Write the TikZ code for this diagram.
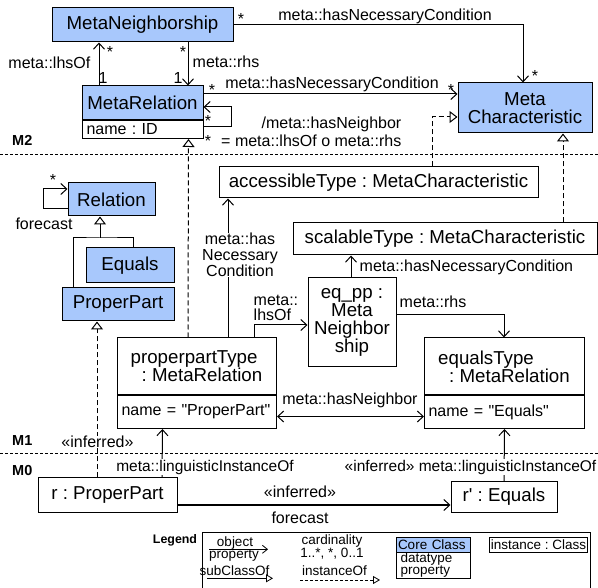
\documentclass[tikz,border=0pt]{standalone}
\usepackage{fontspec}
\setmainfont{Liberation Sans}[Ligatures=TeXOff]
\frenchspacing
\usetikzlibrary{arrows.meta}
\definecolor{coreblue}{RGB}{168,200,252}
\newcommand\fsName{\fontsize{18.7}{18}\selectfont}
\newcommand\fsLbl{\fontsize{16}{16}\selectfont}
\newcommand\fsLing{\fontsize{15.5}{16}\selectfont}
\newcommand\fsLeg{\fontsize{13.5}{12}\selectfont}
\newcommand\fsLevel{\fontsize{14.5}{14}\selectfont\bfseries}

\begin{document}
\begin{tikzpicture}[x=1pt,y=-1pt,
  box/.style={draw, line width=1pt, inner sep=0pt, align=center, font=\fsName},
  cls/.style={box, fill=coreblue},
  obj/.style={box, fill=white},
  hdr/.style={obj, align=left},
  attr/.style={draw, line width=1pt, fill=white, inner xsep=4pt, inner ysep=0pt,
               align=left, font=\fsLbl, anchor=north west},
  lbl/.style={font=\fsLbl, inner sep=0.5pt},
  ling/.style={font=\fsLing, inner sep=0.5pt, fill=white},
  mult/.style={font=\fsLbl, inner sep=0pt},
  levelname/.style={font=\fsLevel, inner sep=0pt, anchor=west},
  legtext/.style={font=\fsLeg, inner sep=0pt, anchor=base},
  assoc/.style={line width=1pt, -{Straight Barb[length=6pt,width=11pt]}},
  biassoc/.style={line width=1pt, {Straight Barb[length=6pt,width=11pt]}-{Straight Barb[length=6pt,width=11pt]}},
  plain/.style={line width=1pt},
  gen/.style={line width=1pt, -{Triangle[open,length=8pt,width=12pt,fill=white]}},
  instof/.style={gen, dash pattern=on 5pt off 3pt},
  levelsep/.style={line width=1pt, dash pattern=on 2.5pt off 2.5pt},
]
\useasboundingbox (0,0) rectangle (598,588);

% ---------- level separators ----------
\coordinate (m2l) at (0,155);
\coordinate (m2r) at (598,155);
\coordinate (m1l) at (0,454);
\coordinate (m1r) at (598,454);
\draw[levelsep] (m2l) -- (m2r);
\draw[levelsep] (m1l) -- (m1r);
\node[levelname] (lvM2) at (12,140) {M2};
\node[levelname] (lvM1) at (12,441) {M1};
\node[levelname] (lvM0) at (12,471) {M0};

% ---------- M2 ----------
\node[cls, minimum width=181pt, minimum height=34pt] (mnb) at (142.5,25) {MetaNeighborship};
\node[cls, minimum width=121pt, minimum height=34pt] (mrel) at (142.5,103) {MetaRelation};
\node[attr, text width=113pt, minimum height=18pt] (mrelattr) at (82,120) {name : ID};
\node[cls, minimum width=134pt, minimum height=50pt] (mchar) at (525,108) {Meta\\Characteristic};

% ---------- M1 ----------
\node[cls, minimum width=87pt, minimum height=33pt] (rel) at (111.5,199.5) {Relation};
\node[cls, minimum width=88pt, minimum height=35pt] (equ) at (130,265.5) {Equals};
\node[cls, minimum width=112pt, minimum height=33pt] (pp) at (118,304.5) {ProperPart};

\node[obj, minimum width=319pt, minimum height=31pt] (acc) at (378.5,182.5) {accessibleType : MetaCharacteristic};
\node[obj, minimum width=304pt, minimum height=32pt] (scal) at (445,239) {scalableType : MetaCharacteristic};
\node[obj, minimum width=88pt, minimum height=89pt] (eqpp) at (352,322.5) {eq\_pp :\\Meta\\Neighbor\\ship};

\node[hdr, minimum width=159pt, minimum height=57pt] (ppt) at (196.5,366.5) {properpartType\\\hspace*{11pt}: MetaRelation};
\node[attr, text width=151pt, minimum height=33pt] (pptattr) at (117,395) {name = "ProperPart"};
\node[hdr, minimum width=160pt, minimum height=57pt] (eqt) at (504,366.5) {equalsType\\\hspace*{11pt}: MetaRelation};
\node[attr, text width=152pt, minimum height=33pt] (eqtattr) at (424,395) {name = "Equals"};

% ---------- M0 ----------
\node[obj, minimum width=139pt, minimum height=34pt] (rpp) at (107.5,495) {r : ProperPart};
\node[obj, minimum width=106pt, minimum height=30pt] (req) at (504,497) {r' : Equals};

% ---------- M2 connectors ----------
\draw[assoc] ([xshift=-43.5pt]mrel.north) -- ([xshift=-43.5pt]mnb.south);
\draw[assoc] ([xshift=45.5pt]mnb.south) -- ([xshift=45.5pt]mrel.north);
\draw[assoc] (mnb.east) -| ([xshift=-2pt]mchar.north);
\coordinate (mrelNC) at ([yshift=9pt]mrel.east);
\draw[assoc] (mrelNC) -- (mrelNC -| mchar.west);
\coordinate (hnOut) at ([yshift=3pt]mrelattr.east);
\coordinate (hnIn) at ([yshift=-4pt]mrel.east);
\draw[assoc] (hnOut) -- ++(27,0) |- (hnIn);

% ---------- instance-of links up to M2 ----------
\draw[instof] ([xshift=-8.5pt]ppt.north) -- ([xshift=45.5pt]mrelattr.south);
\coordinate (accTop) at ([xshift=53.5pt]acc.north);
\coordinate (mcharL) at ([yshift=-9pt]mchar.west);
\draw[instof] (accTop) |- (mcharL);
\draw[instof] ([xshift=118pt]scal.north) -- ([xshift=38pt]mchar.south);

% ---------- M1 connectors ----------
\coordinate (fcOut) at ([yshift=-9.5pt]rel.west);
\coordinate (fcIn) at ([yshift=10.5pt]rel.west);
\draw[assoc] (fcOut) -- ++(-24,0) |- (fcIn);

\coordinate (genJ) at (100,238);
\coordinate (eqUp) at ([xshift=3pt]equ.north);
\coordinate (ppUp) at ([xshift=-45pt]pp.north);
\draw[gen] (genJ) -- (genJ |- rel.south);
\draw[plain] (eqUp) |- (genJ) -| (ppUp);

\draw[assoc] ([xshift=31.5pt]ppt.north) -- ([xshift=-150.5pt]acc.south);
\coordinate (lhsUp) at ([xshift=57.5pt]ppt.north);
\coordinate (lhsIn) at ([yshift=-2.5pt]eqpp.west);
\draw[assoc] (lhsUp) |- (lhsIn);
\draw[assoc] ([xshift=-1pt]eqpp.north) -- ([xshift=-94pt]scal.south);
\coordinate (rhsOut) at ([yshift=7.5pt]eqpp.east);
\draw[assoc] (rhsOut) -| (eqt.north);
\coordinate (hnL) at ([yshift=-4.5pt]pptattr.east);
\draw[biassoc] (hnL) -- (hnL -| eqtattr.west);

% ---------- M0 connectors ----------
\draw[instof] ([xshift=-10.5pt]rpp.north) -- ([xshift=-21pt]pp.south);
\draw[assoc] ([xshift=54.5pt]rpp.north) -- ([xshift=-34.5pt]pptattr.south);
\draw[assoc] (req.north) -- (eqtattr.south);
\coordinate (fcA) at ([yshift=-10pt]rpp.east);
\draw[assoc] (fcA) -- (fcA -| req.west);

% ---------- labels ----------
\node[lbl, anchor=east] (lLhs) at (91,63) {meta::lhsOf};
\node[mult] (mLhs1) at (103,78) {1};
\node[mult] (mLhsS) at (110,51.5) {*};
\node[mult] (mRhsS) at (183,51.5) {*};
\node[lbl, anchor=west] (lRhs) at (192,62) {meta::rhs};
\node[mult] (mRhs1) at (178,78) {1};

\node[mult] (mTopA) at (241,18.5) {*};
\node[lbl] (lTop) at (385,16) {meta::hasNecessaryCondition};
\node[mult] (mTopB) at (535,75.5) {*};

\node[mult] (mNcA) at (212,89.5) {*};
\node[lbl] (lNc) at (332,84) {meta::hasNecessaryCondition};
\node[mult] (mNcB) at (451,89.5) {*};

\node[mult] (mHnA) at (208,120.5) {*};
\node[mult] (mHnB) at (208,140.5) {*};
\node[lbl, anchor=east, align=right, font=\fontsize{16}{18}\selectfont] (lHn) at (402,132)
  {/meta::hasNeighbor\\= meta::lhsOf o meta::rhs};

\node[mult] (mFc) at (53,179.5) {*};
\node[lbl] (lFc) at (44,224) {forecast};

\node[lbl, fill=white, align=center] (lAcc) at (240,255) {meta::has\\Necessary\\Condition};
\node[lbl, anchor=west, align=left, font=\fontsize{16}{15}\selectfont] (lLhsOf) at (253,307.5) {meta::\\lhsOf};
\node[lbl, anchor=west] (lScal) at (359,267) {meta::hasNecessaryCondition};
\node[lbl, anchor=west] (lRhs2) at (399,302) {meta::rhs};
\node[lbl] (lNb) at (350,400) {meta::hasNeighbor};

\node[lbl, fill=white] (lInfA) at (97.5,442) {«inferred»};
\node[ling] (lLingA) at (205,467) {meta::linguisticInstanceOf};
\node[ling] (lLingB) at (470.5,467) {«inferred» meta::linguisticInstanceOf};
\node[lbl] (lInfB) at (300,492) {«inferred»};
\node[lbl] (lFc2) at (300,518) {forecast};

% ---------- legend ----------
\node[font=\fontsize{12.4}{12}\selectfont\bfseries, inner sep=0pt] (legTitle) at (175,540) {Legend};
\node[draw, line width=1pt, anchor=north west, minimum width=388pt, minimum height=70pt, inner sep=0pt] (legend) at (202,532) {};

\coordinate (legA1) at (209,549.3);
\coordinate (legA2) at (268,549.3);
\draw[line width=0.8pt, -{Straight Barb[length=5pt,width=8pt]}] (legA1) -- (legA2);
\node[legtext] (legObj) at (235,546) {object};
\node[legtext] (legProp) at (234,558.5) {property};

\coordinate (legS1) at (207,578.3);
\coordinate (legS2) at (273,578.3);
\draw[line width=0.8pt, -{Triangle[open,length=7pt,width=8pt,fill=white]}] (legS1) -- (legS2);
\node[legtext] (legSub) at (234.5,575.5) {subClassOf};

\node[legtext] (legCard) at (332,544) {cardinality};
\node[legtext] (legMult) at (332,558) {1..*, *, 0..1};
\node[legtext] (legInst) at (334.5,575) {instanceOf};
\coordinate (legI1) at (300,580);
\coordinate (legI2) at (380,580);
\draw[line width=0.8pt, dash pattern=on 3pt off 2pt, -{Triangle[open,length=7pt,width=8pt,fill=white]}] (legI1) -- (legI2);

\node[draw, line width=1pt, fill=coreblue, anchor=north west, inner xsep=1.5pt, inner ysep=0pt,
      text width=71pt, minimum height=15pt, align=left, font=\fsLeg] (legCore) at (396,537) {Core Class};
\node[draw, line width=1pt, fill=white, anchor=north west, inner xsep=4pt, inner ysep=0pt,
      text width=66pt, minimum height=26pt, align=left, font=\fsLeg] (legCoreAttr) at (396,552) {datatype\\property};
\node[draw, line width=1pt, fill=white, anchor=north west, inner sep=0pt,
      minimum width=98pt, minimum height=15pt, font=\fsLeg] (legInstBox) at (489,537) {instance : Class};

\end{tikzpicture}
\end{document}
